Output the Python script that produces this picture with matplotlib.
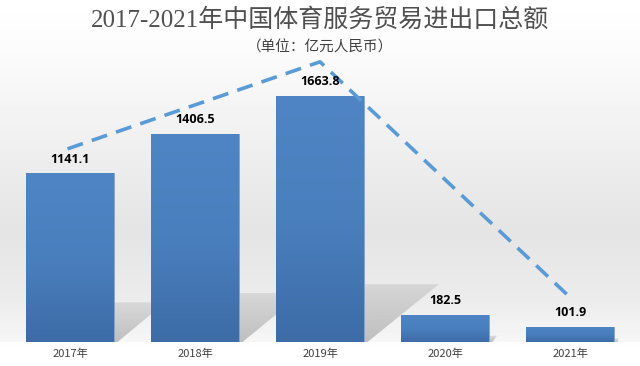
import numpy as np
import matplotlib
matplotlib.use("Agg")
import matplotlib.pyplot as plt
from matplotlib.colors import LinearSegmentedColormap
from matplotlib.patches import Polygon

plt.rcParams["font.family"] = ["Noto Sans CJK SC", "DejaVu Sans"]

# data
years = ["2017年", "2018年", "2019年", "2020年", "2021年"]
values = [1141.1, 1406.5, 1663.8, 182.5, 101.9]
# decorative dashed trend arrow (start, peak, end)
trend_x = [-0.02, 2.0, 3.98]
trend_y = [1305, 1893, 318]

title = "2017-2021年中国体育服务贸易进出口总额"
subtitle = "（单位：亿元人民币）"

W, H = 640, 366
fig = plt.figure(figsize=(W / 100, H / 100), dpi=100)

# page background: white -> light gray wall, white floor
bg = fig.add_axes([0, 0, 1, 1], zorder=-10)
bg.set_axis_off()
rows = np.arange(H)
stops_y = [0, 50, 140, 230, 300, 341, 342, 366]
stops_v = [1.0, 0.985, 0.94, 0.895, 0.925, 0.965, 0.995, 1.0]
shade = np.interp(rows, stops_y, stops_v)
img = np.repeat(shade[:, None], 8, axis=1)
bg.imshow(img, cmap="gray", vmin=0, vmax=1, aspect="auto", extent=[0, 1, 0, 1])
bg.set_xlim(0, 1)
bg.set_ylim(0, 1)

ax = fig.add_axes([7.5 / W, 24 / H, 625 / W, 296 / H])
ax.patch.set_alpha(0)
ax.set_xlim(-0.5, 4.5)
ax.set_ylim(0, 2000)

x = np.arange(len(values))
bw = 0.70

# soft shadows behind bars, fading upward
shadow_rgba = np.zeros((64, 1, 4))
shadow_rgba[..., :3] = 0.6
shadow_rgba[:, 0, 3] = np.linspace(0.6, 0.25, 64)
for xi, v in zip(x, values):
    h = v * 0.235
    dx = h * 0.148 * 1.3 / 125
    poly = Polygon([(xi - bw / 2, 0), (xi - bw / 2 + dx, h), (xi + bw / 2 + dx, h),
                    (xi + bw / 2 + 0.03, 0)], closed=True,
                   facecolor="none", edgecolor="none", zorder=1)
    ax.add_patch(poly)
    im = ax.imshow(shadow_rgba, origin="lower", aspect="auto",
                   extent=[xi - bw / 2, xi + bw / 2 + dx, 0, h], zorder=1)
    im.set_clip_path(poly)

bars = ax.bar(x, values, width=bw, color="#4a7ebb", edgecolor="#7fa6d6",
              linewidth=0.6, zorder=2)

# vertical gradient inside each bar
cmap = LinearSegmentedColormap.from_list("barblue", ["#3d6ca7", "#4a7fbe", "#4f85c4"])
grad = np.linspace(0, 1, 128)[:, None]
for b in bars:
    x0, y0 = b.get_x(), b.get_y()
    im = ax.imshow(grad, cmap=cmap, origin="lower", aspect="auto",
                   extent=[x0, x0 + b.get_width(), y0, y0 + b.get_height()], zorder=2.5)
    im.set_clip_path(b)

for xi, v in zip(x, values):
    ax.text(xi, v + 95, f"{v:.1f}", ha="center", va="center", fontsize=9,
            fontweight="bold", color="black", family=["Open Sans", "DejaVu Sans"], zorder=4)

ax.plot(trend_x, trend_y, color="#5b9bd5", lw=2.6, linestyle=(0, (4.5, 2.6)),
        solid_capstyle="butt", dash_capstyle="butt", clip_on=False, zorder=3)

ax.set_xticks(x)
ax.set_xticklabels(years, fontsize=8, color="#404040")
ax.tick_params(axis="x", length=0, pad=5)
ax.set_yticks([])
for s in ax.spines.values():
    s.set_visible(False)

fig.text(0.5, 1 - 20 / H, title, ha="center", va="center", fontsize=18, color="#505050",
         family=["Liberation Serif", "Noto Sans CJK SC"], fontweight="light")
fig.text(0.5, 1 - 48 / H, subtitle, ha="center", va="center", fontsize=10.5, color="#404040")

fig.savefig("out.png", dpi=100)
